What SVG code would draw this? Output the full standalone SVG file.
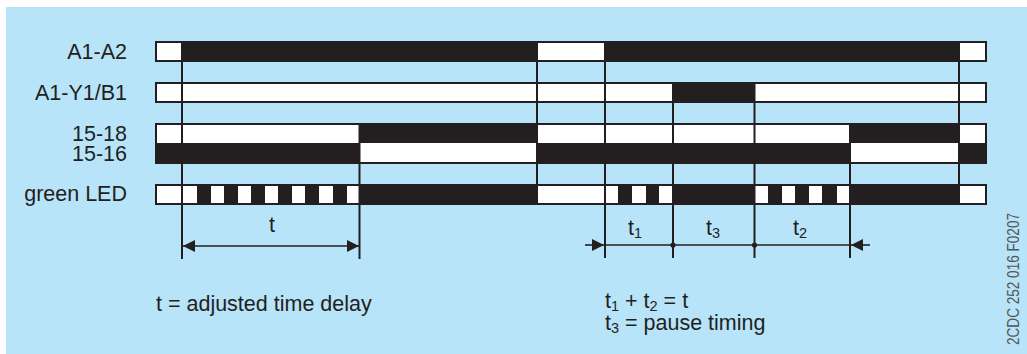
<svg xmlns="http://www.w3.org/2000/svg" width="1027" height="354" viewBox="0 0 1027 354">
<defs>
<style>
.lbl{font-family:"Liberation Sans",Arial,sans-serif;font-size:21.5px;fill:#231f20}
.sub{font-size:14.5px}
.bar{fill:#ffffff;stroke:#231f20;stroke-width:2}
.blk{fill:#231f20}
.ln{stroke:#231f20;stroke-width:2;fill:none}
.dim{stroke:#231f20;stroke-width:1.6;fill:none}
</style>
<marker id="ah" viewBox="0 0 12 12" refX="12" refY="6" markerWidth="12" markerHeight="12" markerUnits="userSpaceOnUse" orient="auto-start-reverse">
<path d="M0,0 L12,6 L0,12 Z" fill="#231f20"/>
</marker>
</defs>
<rect x="6" y="7" width="1021" height="347" fill="#b7e4f8"/>

<g id="A1-A2">
<text class="lbl" x="127" y="59" text-anchor="end">A1-A2</text>
<rect class="bar" x="156" y="42" width="830" height="19"/>
<rect class="blk" x="182" y="42" width="355" height="19"/>
<rect class="blk" x="605" y="42" width="354" height="19"/>
</g>

<g id="A1-Y1-B1">
<text class="lbl" x="127" y="100" text-anchor="end">A1-Y1/B1</text>
<rect class="bar" x="156" y="83" width="830" height="19"/>
<rect class="blk" x="673" y="83" width="82" height="19"/>
</g>

<g id="contacts-15">
<text class="lbl" x="127" y="141" text-anchor="end">15-18</text>
<text class="lbl" x="127" y="161" text-anchor="end">15-16</text>
<rect class="bar" x="156" y="124" width="830" height="39"/>
<rect class="blk" x="359" y="124" width="178" height="19"/>
<rect class="blk" x="849" y="124" width="110" height="19"/>
<rect class="blk" x="156" y="143" width="203" height="20"/>
<rect class="blk" x="537" y="143" width="313" height="20"/>
<rect class="blk" x="959" y="143" width="27" height="20"/>
</g>

<g id="green-LED">
<text class="lbl" x="127" y="201" text-anchor="end">green LED</text>
<rect class="bar" x="156" y="185" width="830" height="19"/>
<rect class="blk" x="197" y="185" width="14" height="19"/>
<rect class="blk" x="224" y="185" width="14" height="19"/>
<rect class="blk" x="251" y="185" width="14" height="19"/>
<rect class="blk" x="278" y="185" width="14" height="19"/>
<rect class="blk" x="305" y="185" width="14" height="19"/>
<rect class="blk" x="333" y="185" width="14" height="19"/>
<rect class="blk" x="359" y="185" width="178" height="19"/>
<rect class="blk" x="618" y="185" width="14" height="19"/>
<rect class="blk" x="646" y="185" width="13" height="19"/>
<rect class="blk" x="673" y="185" width="82" height="19"/>
<rect class="blk" x="768" y="185" width="14" height="19"/>
<rect class="blk" x="795" y="185" width="14" height="19"/>
<rect class="blk" x="822" y="185" width="15" height="19"/>
<rect class="blk" x="850" y="185" width="109" height="19"/>
</g>

<g id="connectors">
<line class="ln" x1="182" y1="41" x2="182" y2="259"/>
<line class="ln" x1="359.5" y1="123" x2="359.5" y2="259"/>
<line class="ln" x1="537" y1="41" x2="537" y2="205"/>
<line class="ln" x1="605" y1="41" x2="605" y2="258"/>
<line class="ln" x1="673" y1="82" x2="673" y2="258"/>
<line class="ln" x1="754.5" y1="82" x2="754.5" y2="258"/>
<line class="ln" x1="850" y1="123" x2="850" y2="258"/>
<line class="ln" x1="959" y1="41" x2="959" y2="205"/>
<line class="dim" x1="183" y1="246" x2="359" y2="246" marker-start="url(#ah)" marker-end="url(#ah)"/>
<line class="dim" x1="585" y1="245" x2="604" y2="245" marker-end="url(#ah)"/>
<line class="dim" x1="605" y1="245" x2="850" y2="245"/>
<line class="dim" x1="870" y1="245" x2="851" y2="245" marker-end="url(#ah)"/>
<circle cx="673" cy="245" r="2.6" fill="#231f20"/>
<circle cx="754.5" cy="245" r="2.6" fill="#231f20"/>
</g>

<g id="dimension-labels">
<text class="lbl" x="272" y="232" text-anchor="middle">t</text>
<text class="lbl" x="628" y="235">t<tspan class="sub" dy="3">1</tspan></text>
<text class="lbl" x="706" y="235">t<tspan class="sub" dy="3">3</tspan></text>
<text class="lbl" x="793" y="235">t<tspan class="sub" dy="3">2</tspan></text>
</g>

<g id="legend">
<text class="lbl" x="156" y="311">t = adjusted time delay</text>
<text class="lbl" x="605" y="308">t<tspan class="sub" dy="3">1</tspan><tspan dy="-3"> + t</tspan><tspan class="sub" dy="3">2</tspan><tspan dy="-3"> = t</tspan></text>
<text class="lbl" x="605" y="330">t<tspan class="sub" dy="3">3</tspan><tspan dy="-3"> = pause timing</tspan></text>
</g>

<text x="1019" y="345" transform="rotate(-90 1019 345)" font-family="'Liberation Sans',Arial,sans-serif" font-size="16" fill="#555555" textLength="132" lengthAdjust="spacingAndGlyphs">2CDC 252 016 F0207</text>
</svg>
